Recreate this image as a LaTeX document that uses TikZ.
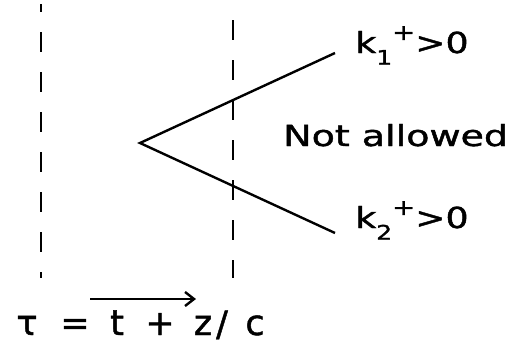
\documentclass[tikz,border=0pt]{standalone}
\usepackage{fontspec}
\setmainfont[FakeBold=1.3]{DejaVu Sans}
\usetikzlibrary{arrows.meta}
\begin{document}
\begin{tikzpicture}[x=1pt,y=-1pt,
  dline/.style={line width=2.6pt,dash pattern=on 20pt off 20pt},
  sline/.style={line width=2.4pt},
  lbl/.style={inner sep=0pt,anchor=base west,font=\fontsize{29}{30}\selectfont},
  glyph/.style={inner sep=0pt,anchor=base,font=\fontsize{35}{35}\selectfont}]
\useasboundingbox (0,0) rectangle (519,346);
\coordinate (l1) at (41,4);
\coordinate (l2) at (41,278);
\coordinate (r1) at (233,20);
\coordinate (r2) at (233,278);
\draw[dline,dash phase=12pt] (l1) -- (l2);
\draw[dline] (r1) -- (r2);
\coordinate (v) at (140,143);
\coordinate (e1) at (335,53);
\coordinate (e2) at (335,233);
\draw[sline] (e1) -- (v) -- (e2);
\node[lbl,xscale=1.25,transform shape] (k1) at (355,53) {k\raisebox{-0.4em}{\fontsize{20}{20}\selectfont 1}\raisebox{0.45em}{\fontsize{22}{22}\selectfont +}>0};
\node[lbl,xscale=1.25,transform shape] (k2) at (355,228) {k\raisebox{-0.4em}{\fontsize{20}{20}\selectfont 2}\raisebox{0.45em}{\fontsize{22}{22}\selectfont +}>0};
\node[lbl,xscale=1.31,transform shape] (na) at (283,146) {Not allowed};
\node[glyph] (tau) at (27,335) {τ};
\node[glyph] (eqs) at (75,335) {=};
\node[glyph] (tt) at (117,335) {t};
\node[glyph] (pl) at (160,335) {+};
\node[glyph] (zz) at (203,335) {z};
\node[glyph] (sl) at (222,336) {/};
\node[glyph] (cc) at (255,335) {c};
\coordinate (a1) at (90,299);
\coordinate (a2) at (196,299);
\draw[sline,-{Straight Barb[length=9pt,width=14pt,line width=2.4pt]}] (a1) -- (a2);
\end{tikzpicture}
\end{document}
